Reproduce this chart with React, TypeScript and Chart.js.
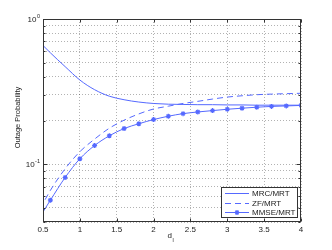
import React, { useEffect, useRef } from 'react';
import { Chart, registerables } from 'chart.js';

Chart.register(...registerables);

const xValues = [0.4, 0.6, 0.8, 1.0, 1.2, 1.4, 1.6, 1.8, 2.0, 2.2, 2.4, 2.6, 2.8, 3.0, 3.2, 3.4, 3.6, 3.8, 4.0];
const mrcValues = [0.74, 0.585, 0.47, 0.38, 0.326, 0.294, 0.278, 0.268, 0.262, 0.259, 0.258, 0.257, 0.257, 0.256, 0.256, 0.255, 0.255, 0.255, 0.255];
const zfValues = [0.043, 0.066, 0.093, 0.122, 0.149, 0.177, 0.201, 0.222, 0.24, 0.251, 0.262, 0.271, 0.281, 0.29, 0.296, 0.301, 0.304, 0.306, 0.308];
const mmseValues = [0.039, 0.0565, 0.081, 0.109, 0.1345, 0.157, 0.176, 0.19, 0.203, 0.214, 0.223, 0.229, 0.234, 0.239, 0.243, 0.247, 0.25, 0.252, 0.254];

const seriesLabels = ['MRC/MRT', 'ZF/MRT', 'MMSE/MRT'];
const xTicks = [0.5, 1, 1.5, 2, 2.5, 3, 3.5, 4];
const yGridTicks = [0.04, 0.05, 0.06, 0.07, 0.08, 0.09, 0.1, 0.2, 0.3, 0.4, 0.5, 0.6, 0.7, 0.8, 0.9, 1];
const yLabelTicks = [0.1, 1];
const yLabelExps = ['-1', '0'];
const xTitleMain = 'd';
const xTitleSub = 'l';
const yTitle = 'Outage Probability';

const FONT = '"Liberation Sans", Arial, Helvetica, sans-serif';
const LINE = 'rgb(85, 105, 255)';
const TEXT = '#222';

function drawStar(ctx: CanvasRenderingContext2D, x: number, y: number, r: number) {
  ctx.beginPath();
  for (let k = 0; k < 4; k++) {
    const a = (k * Math.PI) / 4;
    ctx.moveTo(x - r * Math.cos(a), y - r * Math.sin(a));
    ctx.lineTo(x + r * Math.cos(a), y + r * Math.sin(a));
  }
  ctx.stroke();
}

const decorPlugin = {
  id: 'decor',
  afterDatasetsDraw(chart: any) {
    const { ctx, chartArea } = chart;
    const xs = chart.scales.x;
    const ys = chart.scales.y;
    const L = Math.round(chartArea.left) + 0.5;
    const R = Math.round(chartArea.right) - 0.5;
    const T = Math.round(chartArea.top) + 0.5;
    const B = Math.round(chartArea.bottom) - 0.5;
    ctx.save();
    ctx.strokeStyle = '#333';
    ctx.lineWidth = 1;
    ctx.beginPath();
    xTicks.forEach((v) => {
      const px = Math.round(xs.getPixelForValue(v)) + 0.5;
      ctx.moveTo(px, B);
      ctx.lineTo(px, B - 3);
      ctx.moveTo(px, T);
      ctx.lineTo(px, T + 3);
    });
    yGridTicks.forEach((v) => {
      const py = Math.round(ys.getPixelForValue(v)) + 0.5;
      const len = yLabelTicks.includes(v) ? 4 : 2;
      ctx.moveTo(L, py);
      ctx.lineTo(L + len, py);
      ctx.moveTo(R, py);
      ctx.lineTo(R - len, py);
    });
    ctx.stroke();
    ctx.strokeRect(L, T, R - L, B - T);

    ctx.fillStyle = TEXT;
    ctx.textBaseline = 'middle';
    yLabelTicks.forEach((v, i) => {
      const py = ys.getPixelForValue(v);
      const exp = yLabelExps[i];
      ctx.font = `5.5px ${FONT}`;
      const ew = ctx.measureText(exp).width;
      const right = chartArea.left - 3;
      ctx.textAlign = 'left';
      ctx.fillText(exp, right - ew, py - 3);
      ctx.font = `8px ${FONT}`;
      ctx.textAlign = 'right';
      ctx.fillText('10', right - ew - 0.5, py + 1);
    });

    const cx = (chartArea.left + chartArea.right) / 2;
    ctx.font = `8px ${FONT}`;
    ctx.textAlign = 'right';
    ctx.fillText(xTitleMain, cx, 236);
    ctx.font = `5.5px ${FONT}`;
    ctx.textAlign = 'left';
    ctx.fillText(xTitleSub, cx + 0.5, 240);

    ctx.save();
    ctx.translate(18, (chartArea.top + chartArea.bottom) / 2 - 3);
    ctx.rotate(-Math.PI / 2);
    ctx.font = `7.5px ${FONT}`;
    ctx.textAlign = 'center';
    ctx.fillText(yTitle, 0, 0);
    ctx.restore();

    const bx = 221.5, by = 187.5, bw = 76, bh = 30;
    ctx.fillStyle = '#fff';
    ctx.fillRect(bx, by, bw, bh);
    ctx.strokeStyle = '#333';
    ctx.strokeRect(bx, by, bw, bh);
    const rowY = [193, 202.5, 212];
    chart.data.datasets.forEach((ds: any, i: number) => {
      const y = Math.round(rowY[i]) + 0.5;
      ctx.strokeStyle = ds.borderColor;
      ctx.lineWidth = 1;
      ctx.setLineDash(ds.borderDash || []);
      ctx.beginPath();
      ctx.moveTo(225, y);
      ctx.lineTo(249, y);
      ctx.stroke();
      ctx.setLineDash([]);
      if (ds.pointRadius > 0) {
        ctx.lineWidth = ds.pointBorderWidth || 1;
        drawStar(ctx, 237, y, ds.pointRadius);
        ctx.lineWidth = 1;
      }
      ctx.fillStyle = TEXT;
      ctx.font = `8px ${FONT}`;
      ctx.textAlign = 'left';
      ctx.textBaseline = 'middle';
      ctx.fillText(ds.label, 252, y + 0.5);
    });
    ctx.restore();
  },
};

export default function App() {
  const ref = useRef<HTMLCanvasElement | null>(null);
  useEffect(() => {
    if (!ref.current) return;
    const mk = (vals: number[]) => xValues.map((x, i) => ({ x, y: vals[i] }));
    const gridOpts = { color: 'rgba(0,0,0,0.3)', lineWidth: 1, drawTicks: false };
    const chart = new Chart(ref.current, {
      type: 'line',
      data: {
        datasets: [
          { label: seriesLabels[0], data: mk(mrcValues), borderColor: LINE, backgroundColor: LINE, borderWidth: 1, pointRadius: 0, cubicInterpolationMode: 'monotone' },
          { label: seriesLabels[1], data: mk(zfValues), borderColor: LINE, backgroundColor: LINE, borderWidth: 1, borderDash: [6, 4], pointRadius: 0, cubicInterpolationMode: 'monotone' },
          { label: seriesLabels[2], data: mk(mmseValues), borderColor: LINE, backgroundColor: LINE, borderWidth: 1, pointRadius: 2.5, pointStyle: 'star', pointBorderWidth: 1.2, pointBorderColor: LINE, cubicInterpolationMode: 'monotone' },
        ] as any,
      },
      options: {
        responsive: false,
        animation: false,
        devicePixelRatio: 1,
        layout: { padding: { top: 19, right: 31, left: 0, bottom: 0 } },
        plugins: { legend: { display: false }, tooltip: { enabled: false } },
        scales: {
          x: {
            type: 'linear',
            min: 0.5,
            max: 4,
            afterBuildTicks: (s: any) => { s.ticks = xTicks.map((v) => ({ value: v })); },
            afterFit: (s: any) => { s.height = 28; },
            ticks: { color: TEXT, font: { family: FONT, size: 8 }, padding: 3, maxRotation: 0, autoSkip: false, callback: (v: any) => String(v) },
            grid: gridOpts,
            border: { display: false, dash: [1, 2] },
          },
          y: {
            type: 'logarithmic',
            min: 0.04,
            max: 1,
            afterBuildTicks: (s: any) => { s.ticks = yGridTicks.map((v) => ({ value: v })); },
            afterFit: (s: any) => { s.width = 43; },
            ticks: { callback: () => '', autoSkip: false },
            grid: gridOpts,
            border: { display: false, dash: [1, 2] },
          },
        },
      } as any,
      plugins: [decorPlugin],
    });
    return () => chart.destroy();
  }, []);
  return (
    <div style={{ position: 'absolute', left: 0, top: 0, width: 332, height: 250, background: '#fff' }}>
      <canvas ref={ref} width={332} height={250} style={{ width: 332, height: 250, display: 'block' }} />
    </div>
  );
}
